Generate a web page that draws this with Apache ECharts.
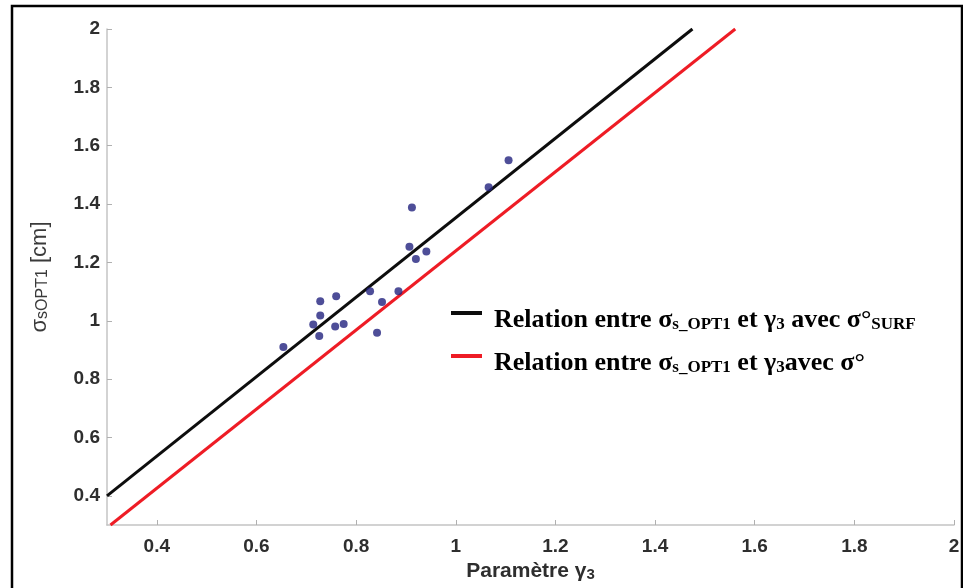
<!DOCTYPE html>
<html>
<head>
<meta charset="utf-8">
<script src="https://cdn.jsdelivr.net/npm/echarts@6/dist/echarts.min.js"></script>
<style>
  html, body { margin: 0; padding: 0; background: #fff; }
  #chart { width: 963px; height: 588px; }
</style>
</head>
<body>
<div id="chart"></div>
<script>
// Measured points: gamma3 parameter vs sigma_s_OPT1 (cm)
const gamma3 = [0.654, 0.728, 0.760, 0.728, 0.714, 0.726, 0.758, 0.775, 0.828, 0.852, 0.842, 0.885, 0.912, 0.907, 0.920, 0.941, 1.066, 1.106];
const sigmaOpt = [0.910, 1.067, 1.084, 1.018, 0.987, 0.948, 0.980, 0.989, 1.101, 1.064, 0.959, 1.101, 1.388, 1.254, 1.212, 1.237, 1.458, 1.550];

// Fitted relations, given by their end points
const surfLineX = [0.300, 1.475];
const surfLineY = [0.400, 2.000];
const sigma0LineX = [0.307, 1.561];
const sigma0LineY = [0.300, 2.000];

// Tick labels on both axes
const tickValues = [0.4, 0.6, 0.8, 1, 1.2, 1.4, 1.6, 1.8, 2];

const legendNames = ['surf', 'sigma0'];
const legendText = {
  surf: '{t|Relation entre }{t|σ}{sub|s_OPT1}{t| et }{t|γ}{sub|3}{t| avec }{t|σ°}{sub|SURF}',
  sigma0: '{t|Relation entre }{t|σ}{sub|s_OPT1}{t| et }{t|γ}{sub|3}{t|avec }{t|σ°}'
};

const pairs = (xs, ys) => xs.map((x, i) => [x, ys[i]]);

const serif = '"Liberation Serif", "Times New Roman", serif';
const sans = '"Liberation Sans", Arial, Helvetica, sans-serif';

const chart = echarts.init(document.getElementById('chart'), null, { renderer: 'canvas' });

const axisCommon = {
  type: 'value',
  min: 0.3,
  max: 2,
  axisLine: { show: true, lineStyle: { color: '#c4c4c4', width: 1.5 } },
  axisTick: { show: true, inside: true, length: 5, customValues: tickValues, lineStyle: { color: '#b0b0b0' } },
  axisLabel: {
    customValues: tickValues,
    color: '#2e2e2e',
    fontFamily: sans,
    fontWeight: 'bold',
    fontSize: 19,
    formatter: v => String(Math.round(v * 10) / 10)
  },
  splitLine: { show: false }
};

chart.setOption({
  animation: false,
  backgroundColor: '#fff',
  grid: { left: 107, right: 9, top: 29, bottom: 63, containLabel: false, outerBoundsMode: 'none' },
  xAxis: Object.assign({}, axisCommon, {
    name: '{t|Paramètre γ}{sub|3}',
    nameLocation: 'middle',
    nameGap: 21,
    nameTextStyle: {
      color: '#2e2e2e',
      rich: {
        t: { fontFamily: sans, fontSize: 21, fontWeight: 'bold', color: '#2e2e2e', lineHeight: 24, verticalAlign: 'bottom' },
        sub: { fontFamily: sans, fontSize: 15, fontWeight: 'bold', color: '#2e2e2e', lineHeight: 36, verticalAlign: 'bottom' }
      }
    },
    axisLabel: Object.assign({}, axisCommon.axisLabel, { margin: 12 })
  }),
  yAxis: Object.assign({}, axisCommon, {
    name: '{t|σ}{sub|sOPT1}{t| [cm]}',
    nameLocation: 'middle',
    nameGap: 56,
    nameTextStyle: {
      color: '#3a3a3a',
      rich: {
        t: { fontFamily: sans, fontSize: 22, color: '#3a3a3a', lineHeight: 24, verticalAlign: 'bottom' },
        sub: { fontFamily: sans, fontSize: 16, color: '#3a3a3a', lineHeight: 36, verticalAlign: 'bottom' }
      }
    },
    axisLabel: Object.assign({}, axisCommon.axisLabel, { margin: 7 })
  }),
  legend: {
    data: legendNames,
    orient: 'vertical',
    left: 446,
    top: 302,
    itemGap: 17,
    itemWidth: 31,
    itemHeight: 4,
    icon: 'rect',
    selectedMode: false,
    formatter: name => legendText[name],
    textStyle: {
      padding: [0, 0, 0, 7],
      rich: {
        t: { fontFamily: serif, fontWeight: 'bold', fontSize: 26, color: '#000', lineHeight: 26, verticalAlign: 'bottom' },
        sub: { fontFamily: serif, fontWeight: 'bold', fontSize: 17, color: '#000', lineHeight: 40, verticalAlign: 'bottom' }
      }
    }
  },
  series: [
    {
      name: 'points',
      type: 'scatter',
      data: pairs(gamma3, sigmaOpt),
      symbol: 'circle',
      symbolSize: 8,
      itemStyle: { color: '#22227e' },
      z: 3
    },
    {
      name: 'surf',
      type: 'line',
      data: pairs(surfLineX, surfLineY),
      showSymbol: false,
      symbol: 'none',
      lineStyle: { color: '#0d0d0d', width: 3 },
      itemStyle: { color: '#0d0d0d' },
      z: 2
    },
    {
      name: 'sigma0',
      type: 'line',
      data: pairs(sigma0LineX, sigma0LineY),
      showSymbol: false,
      symbol: 'none',
      lineStyle: { color: '#ee1c25', width: 3 },
      itemStyle: { color: '#ee1c25' },
      z: 2
    }
  ],
  graphic: [
    {
      type: 'rect',
      shape: { x: 12, y: 6, width: 950, height: 610 },
      style: { fill: 'none', stroke: '#000', lineWidth: 2.5 },
      silent: true,
      z: 10
    }
  ]
});
</script>
</body>
</html>
